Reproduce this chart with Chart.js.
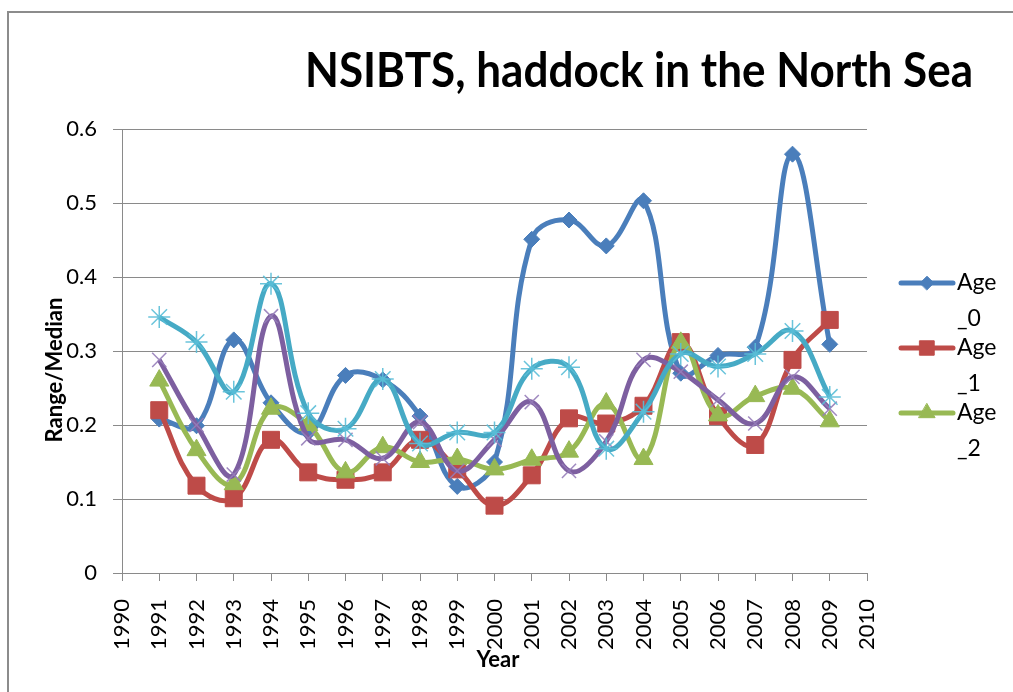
<!DOCTYPE html>
<html>
<head>
<meta charset="utf-8">
<script src="https://cdn.jsdelivr.net/npm/chart.js@4/dist/chart.umd.min.js"></script>
<style>
  html, body { margin: 0; padding: 0; background: #fff; overflow: hidden; }
  #wrap { position: relative; width: 1013px; height: 692px; }
</style>
</head>
<body>
<div id="wrap"><canvas id="c" width="1013" height="692"></canvas></div>
<script>
// ---- data ----
const years = [1991, 1992, 1993, 1994, 1995, 1996, 1997, 1998, 1999, 2000, 2001, 2002, 2003, 2004, 2005, 2006, 2007, 2008, 2009];
const age0 = [0.208, 0.199, 0.315, 0.230, 0.190, 0.267, 0.261, 0.212, 0.117, 0.150, 0.451, 0.477, 0.442, 0.503, 0.270, 0.294, 0.305, 0.566, 0.309];
const age1 = [0.220, 0.118, 0.101, 0.180, 0.136, 0.126, 0.136, 0.180, 0.140, 0.091, 0.132, 0.209, 0.202, 0.226, 0.312, 0.212, 0.173, 0.288, 0.342];
const age2 = [0.260, 0.166, 0.120, 0.222, 0.200, 0.136, 0.170, 0.150, 0.154, 0.140, 0.153, 0.164, 0.229, 0.154, 0.311, 0.213, 0.239, 0.249, 0.205];
const age3 = [0.288, 0.200, 0.133, 0.347, 0.182, 0.180, 0.155, 0.204, 0.138, 0.180, 0.231, 0.138, 0.178, 0.288, 0.272, 0.234, 0.202, 0.265, 0.222];
const age4 = [0.346, 0.312, 0.245, 0.391, 0.216, 0.195, 0.262, 0.175, 0.190, 0.190, 0.276, 0.278, 0.168, 0.218, 0.296, 0.279, 0.296, 0.327, 0.238];
const seriesNames = ['Age_0', 'Age_1', 'Age_2', 'Age_3', 'Age_4'];
const legendLines = [['Age', '_0'], ['Age', '_1'], ['Age', '_2']];
const xMin = 1990, xMax = 2010;
const yMin = 0, yMax = 0.6, yStep = 0.1;
const titleText = 'NSIBTS, haddock in the North Sea';
const xTitle = 'Year';
const yTitle = 'Range/Median';

// ---- styles ----
const FONT = 'Lato, "Open Sans", sans-serif';
const GRID = '#8a8a8a';
const styles = [
  { color: '#4A7EBB', point: 'rectRot', radius: 8, pbw: 1, pc: '#4A7EBB', fill: '#4A7EBB' },
  { color: '#BE4B48', point: 'rect', radius: 12, pbw: 1, pc: '#BE4B48', fill: '#BE4B48' },
  { color: '#98B954', point: 'triangle', radius: 11, pbw: 1, pc: '#98B954', fill: '#98B954' },
  { color: '#7D5FA0', point: 'crossRot', radius: 10, pbw: 1.5, pc: 'rgba(150,125,185,0.9)', fill: 'rgba(0,0,0,0)' },
  { color: '#46AAC5', point: 'star', radius: 11, pbw: 1.5, pc: 'rgba(90,190,215,0.9)', fill: 'rgba(0,0,0,0)' }
];
const allValues = [age0, age1, age2, age3, age4];

const datasets = allValues.map((vals, i) => ({
  label: seriesNames[i],
  data: years.map((yr, j) => ({ x: yr, y: vals[j] })),
  borderColor: styles[i].color,
  backgroundColor: styles[i].fill,
  borderWidth: 5,
  tension: 0.4,
  pointStyle: styles[i].point,
  pointRadius: styles[i].radius,
  pointBorderColor: styles[i].pc,
  pointBackgroundColor: styles[i].fill,
  pointBorderWidth: styles[i].pbw,
  pointHoverRadius: styles[i].radius,
  order: 5 - i,
  fill: false
}));

const CA = { left: 122, right: 867, top: 129, bottom: 573 };

const decor = {
  id: 'decor',
  beforeDraw(chart) {
    const ctx = chart.ctx;
    ctx.save();
    ctx.fillStyle = '#fff';
    ctx.fillRect(0, 0, chart.width, chart.height);
    ctx.restore();
  },
  afterDraw(chart) {
    const ctx = chart.ctx;
    ctx.save();
    // frame
    ctx.strokeStyle = '#8c8c8c';
    ctx.lineWidth = 2;
    ctx.strokeRect(8, 12, 1100, 800);

    // title
    ctx.fillStyle = '#000';
    ctx.font = 'bold 47px ' + FONT;
    ctx.textBaseline = 'alphabetic';
    ctx.textAlign = 'left';
    const w = ctx.measureText(titleText).width;
    const sx = 668 / w;
    ctx.save();
    ctx.translate(305, 87);
    ctx.scale(sx, 1);
    ctx.fillText(titleText, 0, 0);
    ctx.restore();

    // axis titles
    ctx.font = 'bold 22px ' + FONT;
    ctx.textAlign = 'center';
    ctx.textBaseline = 'middle';
    ctx.fillText(xTitle, 498, 660);
    ctx.save();
    ctx.translate(55, 370);
    ctx.rotate(-Math.PI / 2);
    ctx.fillText(yTitle, 0, 0);
    ctx.restore();

    // legend
    const ys = [283, 348, 413];
    ctx.font = '23px ' + FONT;
    ctx.textAlign = 'left';
    ctx.textBaseline = 'middle';
    for (let i = 0; i < legendLines.length; i++) {
      const y = ys[i];
      const s = styles[i];
      ctx.strokeStyle = s.color;
      ctx.lineWidth = 5;
      ctx.lineCap = 'round';
      ctx.beginPath();
      ctx.moveTo(901, y);
      ctx.lineTo(953, y);
      ctx.stroke();
      ctx.fillStyle = s.fill;
      ctx.strokeStyle = s.pc;
      ctx.lineWidth = 1;
      Chart.helpers.drawPoint(ctx, { pointStyle: s.point, radius: s.radius * 0.85, borderWidth: 1, rotation: 0 }, 927, y);
      ctx.fillStyle = '#000';
      ctx.fillText(legendLines[i][0], 957, y);
      ctx.fillText(legendLines[i][1], 957, y + 36);
    }
    ctx.restore();
  }
};

new Chart(document.getElementById('c'), {
  type: 'line',
  data: { datasets },
  options: {
    responsive: false,
    animation: false,
    devicePixelRatio: 1,
    layout: { padding: { left: 0, top: CA.top, right: 1013 - CA.right, bottom: 0 } },
    plugins: { legend: { display: false }, title: { display: false }, tooltip: { enabled: false } },
    scales: {
      x: {
        type: 'linear',
        min: xMin, max: xMax,
        afterFit(scale) { scale.height = 692 - CA.bottom; },
        ticks: {
          stepSize: 1, autoSkip: false, minRotation: 90, maxRotation: 90,
          font: { family: FONT, size: 22 }, color: '#000', padding: 18,
          callback: v => String(v)
        },
        grid: { drawOnChartArea: false, drawTicks: true, tickLength: 8, color: GRID, lineWidth: 1 },
        border: { display: true, color: GRID, width: 1 }
      },
      y: {
        type: 'linear',
        min: yMin, max: yMax,
        afterFit(scale) { scale.width = CA.left; },
        ticks: {
          stepSize: yStep,
          font: { family: FONT, size: 22 }, color: '#000', padding: 16,
          callback: v => String(Math.round(v * 10) / 10)
        },
        grid: { drawOnChartArea: true, drawTicks: true, tickLength: 9, color: GRID, lineWidth: 1 },
        border: { display: true, color: GRID, width: 1 }
      }
    }
  },
  plugins: [decor]
});
</script>
</body>
</html>
